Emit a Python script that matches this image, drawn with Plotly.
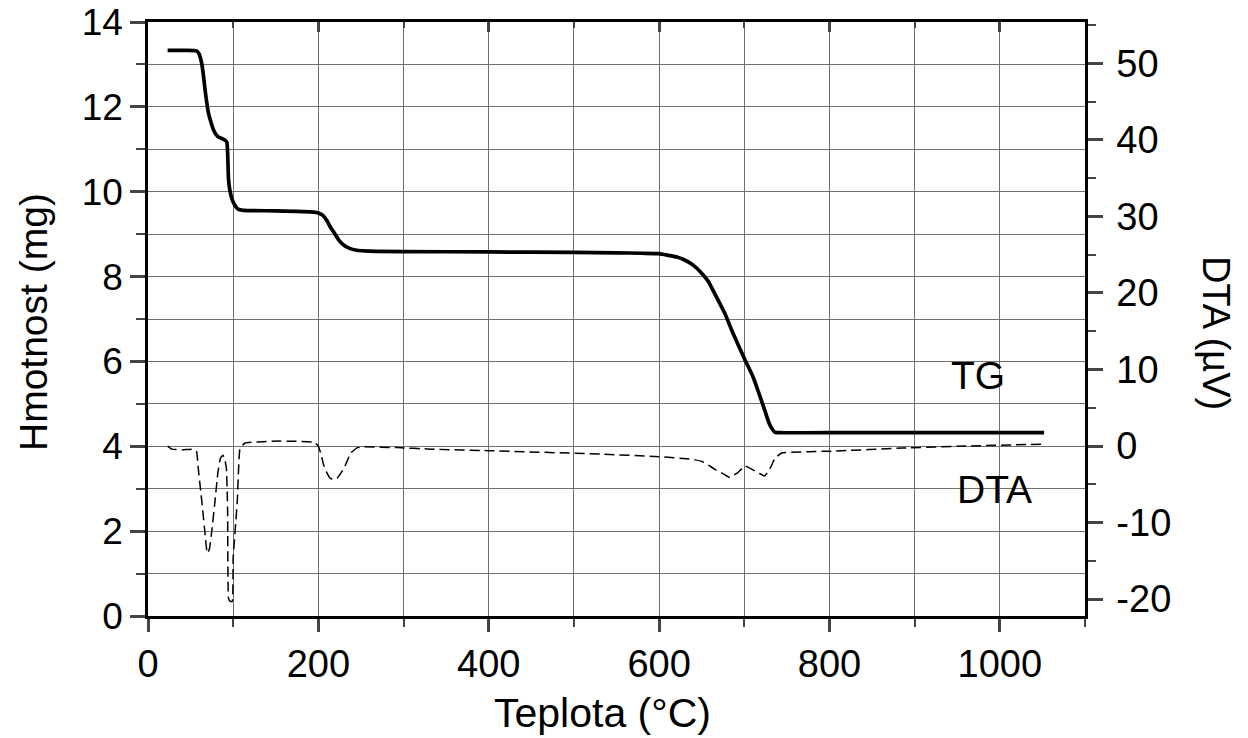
import plotly.graph_objects as go

# TG curve (left axis, mg)
tg_temp = [23, 40, 57, 60, 63, 65, 67, 71, 77, 82, 87, 90, 92.5, 93.5, 94.5, 96, 99, 102, 105, 112,
           150, 195, 200, 205, 210, 214, 219, 224, 230, 236, 245, 260, 300, 400, 500, 550, 580, 600,
           611, 621, 630, 640, 650, 658, 665, 677, 686, 694, 701, 710, 717, 724, 729, 733, 736, 745,
           800, 900, 1000, 1052]
tg_mass = [13.33, 13.33, 13.32, 13.25, 13.03, 12.75, 12.4, 11.85, 11.45, 11.3, 11.25, 11.22, 11.17, 10.9,
           10.3, 10.05, 9.8, 9.68, 9.6, 9.56, 9.55, 9.52, 9.5, 9.45, 9.32, 9.17, 9.02, 8.86, 8.74, 8.67,
           8.62, 8.6, 8.59, 8.58, 8.57, 8.56, 8.55, 8.54, 8.5, 8.46, 8.39, 8.27, 8.08, 7.88, 7.61, 7.14,
           6.7, 6.34, 6.03, 5.65, 5.26, 4.85, 4.55, 4.4, 4.33, 4.32, 4.32, 4.32, 4.32, 4.32]

# DTA curve (right axis, uV)
dta_temp = [23, 28, 40, 53, 57, 59, 62, 64, 67, 69.5, 72, 75, 79, 82, 85, 88, 90, 92, 93, 93.5, 94.5,
            96.5, 99, 100, 103, 105, 108, 114, 155, 195, 200, 203, 206, 210, 214, 218, 222, 226, 230,
            234, 238, 246, 253, 293, 332, 400, 532, 600, 638, 650, 658, 665, 675, 683, 692, 701, 710,
            718, 724, 730, 736, 744, 807, 886, 960, 1051]
dta_val = [0, -0.4, -0.5, -0.4, -0.7, -2.9, -6, -8.1, -11.5, -14, -13.5, -11, -6.8, -3.5, -1.6, -1.2,
           -1.6, -2.9, -6, -8.9, -19.9, -20.3, -20.3, -14.6, -10, -6.8, -0.3, 0.4, 0.65, 0.5, 0, -1,
           -2.4, -3.5, -4.2, -4.4, -4.2, -3.6, -2.9, -1.9, -0.9, -0.2, -0.1, -0.2, -0.4, -0.6, -1.05,
           -1.4, -1.7, -2.0, -2.5, -3.0, -3.6, -4.1, -3.5, -2.6, -3.1, -3.6, -3.9, -3.0, -1.6, -0.9,
           -0.65, -0.26, 0.0, 0.26]

x_ticks = [0, 200, 400, 600, 800, 1000]
left_ticks = [0, 2, 4, 6, 8, 10, 12, 14]
right_ticks = [-20, -10, 0, 10, 20, 30, 40, 50]

FONT = "Liberation Sans, Arial, sans-serif"
GRID = "#707070"
L, R, T, B = 148, 1085, 22, 616   # plot area in page pixels
PW, PH = R - L, B - T
W, H = 1248, 738

fig = go.Figure()
fig.add_trace(go.Scatter(x=tg_temp, y=tg_mass, mode="lines", xaxis="x", yaxis="y",
                         line=dict(color="black", width=3.7, shape="spline", smoothing=0.5),
                         showlegend=False, hoverinfo="skip"))
fig.add_trace(go.Scatter(x=dta_temp, y=dta_val, mode="lines", xaxis="x2", yaxis="y2",
                         line=dict(color="black", width=1.5, dash="10px,5px", shape="spline", smoothing=0.3),
                         showlegend=False, hoverinfo="skip"))

fig.update_layout(
    width=W, height=H,
    margin=dict(l=L, r=W - R, t=T, b=H - B, autoexpand=False),
    paper_bgcolor="white", plot_bgcolor="white",
    font=dict(family=FONT, color="black", size=38),
    xaxis=dict(range=[0, 1100], tickvals=x_ticks, ticks="outside", ticklen=13, tickwidth=2.5,
               showline=True, linewidth=2.5, linecolor="black", automargin=False,
               showgrid=True, gridcolor=GRID, gridwidth=1, zeroline=False,
               ticklabeloverflow="allow",
               minor=dict(dtick=100, tick0=0, ticks="outside", ticklen=8, tickwidth=2,
                          showgrid=True, gridcolor=GRID, gridwidth=1),
               tickfont=dict(size=38)),
    xaxis2=dict(range=[0, 1100], overlaying="x", side="top", matches="x",
                tickvals=x_ticks, ticks="inside", ticklen=10, tickwidth=2.5, automargin=False,
                showticklabels=False, showline=True, linewidth=2.5, linecolor="black",
                showgrid=False, zeroline=False,
                minor=dict(dtick=100, tick0=0, ticks="inside", ticklen=6, tickwidth=2, showgrid=False)),
    yaxis=dict(range=[0, 14], tickvals=left_ticks, ticks="outside", ticklen=15, tickwidth=2.5,
               showline=True, linewidth=2.5, linecolor="black", automargin=False,
               showgrid=True, gridcolor=GRID, gridwidth=1, zeroline=False,
               ticklabeloverflow="allow",
               minor=dict(dtick=1, tick0=0, ticks="outside", ticklen=9, tickwidth=2,
                          showgrid=True, gridcolor=GRID, gridwidth=1),
               tickfont=dict(size=37)),
    yaxis2=dict(range=[-22.2, 55.4], overlaying="y", side="right", anchor="x",
                tickvals=right_ticks, ticktext=[str(v) for v in right_ticks],
                ticks="outside", ticklen=15, tickwidth=2.5, automargin=False,
                showline=True, linewidth=2.5, linecolor="black",
                showgrid=False, zeroline=False, ticklabelstandoff=6,
                ticklabeloverflow="allow",
                minor=dict(dtick=5, tick0=0, ticks="outside", ticklen=8, tickwidth=2, showgrid=False),
                tickfont=dict(size=38)),
    annotations=[
        dict(text="TG", x=974, y=5.68, xref="x", yref="y", showarrow=False,
             xanchor="center", yanchor="middle", font=dict(size=39, family=FONT)),
        dict(text="DTA", x=994, y=2.97, xref="x", yref="y", showarrow=False,
             xanchor="center", yanchor="middle", font=dict(size=39, family=FONT)),
        dict(text="DTA (µV)", x=(1216 - L) / PW, y=(B - 333) / PH, xref="paper", yref="paper",
             showarrow=False, textangle=90, xanchor="center", yanchor="middle",
             font=dict(size=38, family=FONT)),
        dict(text="Hmotnost (mg)", x=(34 - L) / PW, y=(B - 322) / PH, xref="paper", yref="paper",
             showarrow=False, textangle=-90, xanchor="center", yanchor="middle",
             font=dict(size=39, family=FONT)),
        dict(text="Teplota (°C)", x=(602 - L) / PW, y=(B - 713) / PH, xref="paper", yref="paper",
             showarrow=False, xanchor="center", yanchor="middle", font=dict(size=41, family=FONT)),
    ],
)

fig.write_html("out.html", config={"displayModeBar": False},
               post_script="document.body.style.margin='0';document.body.style.overflow='hidden';")
